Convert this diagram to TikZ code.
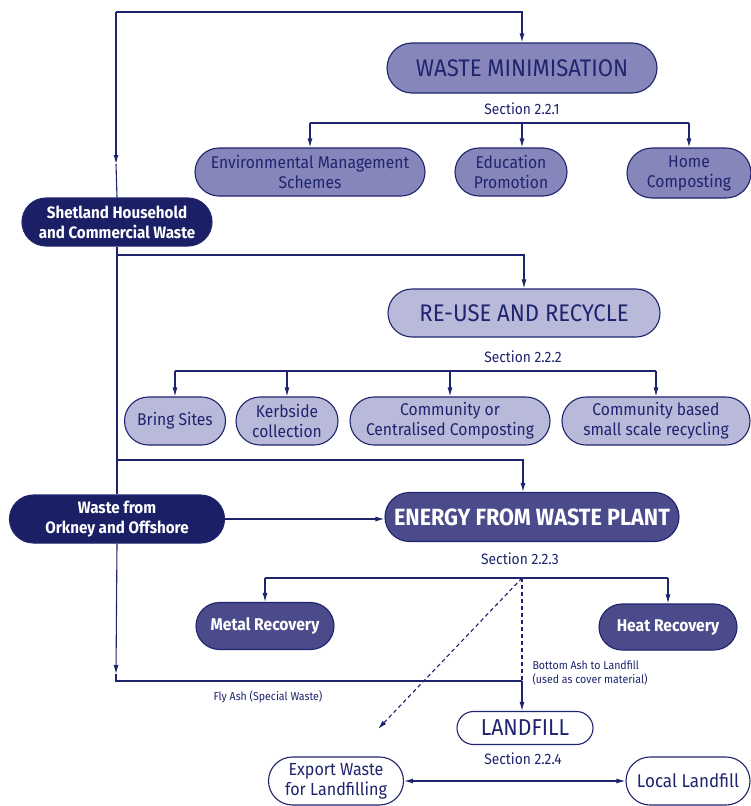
\documentclass[tikz,border=0pt]{standalone}
\usepackage{fontspec}
\setmainfont{Fira Sans}[FakeStretch=0.92]
\usetikzlibrary{shapes.misc,arrows.meta}
\definecolor{navy}{RGB}{30,36,110}
\definecolor{wmfill}{RGB}{134,134,186}
\definecolor{rrfill}{RGB}{185,185,218}
\definecolor{efwfill}{RGB}{75,75,140}
\definecolor{darkbox}{RGB}{27,31,102}
\begin{document}
\begin{tikzpicture}[x=1pt,y=-1pt,
  ln/.style={draw=navy,line width=1.1pt},
  arr/.style={ln,-{Latex[length=9pt,width=5pt]}},
  arrtwo/.style={ln,{Latex[length=9pt,width=5pt]}-{Latex[length=9pt,width=5pt]}},
  box/.style={rounded rectangle,draw=navy,line width=1.1pt,align=center,inner sep=0pt,font=\fontsize{17}{20}\selectfont},
  wmbox/.style={box,fill=wmfill,text=navy},
  rrbox/.style={box,fill=rrfill,text=navy},
  efbox/.style={box,fill=efwfill,text=white,font=\fontsize{17}{20}\selectfont\bfseries},
  srcbox/.style={box,fill=darkbox,text=white,font=\fontsize{16.5}{20}\selectfont\bfseries},
  wtbox/.style={box,fill=white,text=navy,font=\fontsize{17.5}{20}\selectfont},
  titlefont/.style={font=\fontsize{24}{26}\selectfont},
  seclbl/.style={text=navy,font=\fontsize{15}{17}\selectfont},
  small/.style={text=navy,font=\fontsize{11.5}{14}\selectfont}]
\useasboundingbox (0,0) rectangle (751,806);
\fill[white] (0,0) rectangle (751,806);

% main nodes
\node[wmbox,titlefont,minimum width=270pt,minimum height=50pt] (wm) at (522,68) {WASTE MINIMISATION};
\node[seclbl] (sec1) at (522,109) {Section 2.2.1};
\node[wmbox,minimum width=230pt,minimum height=48pt] (ems) at (310,172) {Environmental Management\\Schemes};
\node[wmbox,minimum width=112pt,minimum height=48pt] (edu) at (511,172) {Education\\Promotion};
\node[wmbox,minimum width=124pt,minimum height=50pt] (home) at (689,173) {Home\\Composting};

\node[srcbox,minimum width=190pt,minimum height=48pt] (shet) at (117,222) {Shetland Household\\and Commercial Waste};

\node[rrbox,titlefont,minimum width=272pt,minimum height=48pt] (rr) at (524,313) {RE-USE AND RECYCLE};
\node[seclbl] (sec2) at (523,357) {Section 2.2.2};
\node[rrbox,minimum width=101pt,minimum height=48pt] (bring) at (175,421) {Bring Sites};
\node[rrbox,minimum width=102pt,minimum height=48pt] (kerb) at (287,421) {Kerbside\\collection};
\node[rrbox,minimum width=200pt,minimum height=48pt] (comm) at (450,421) {Community or\\Centralised Composting};
\node[rrbox,minimum width=188pt,minimum height=48pt] (cbased) at (656,421) {Community based\\small scale recycling};

\node[srcbox,minimum width=215pt,minimum height=48pt] (ork) at (117,519) {Waste from\\Orkney and Offshore};
\node[efbox,minimum width=294pt,minimum height=49pt,font=\fontsize{23.5}{26}\selectfont\bfseries] (efw) at (532,517) {ENERGY FROM WASTE PLANT};
\node[seclbl] (sec3) at (520,559) {Section 2.2.3};
\node[efbox,minimum width=138pt,minimum height=47pt] (metal) at (265,626) {Metal Recovery};
\node[efbox,minimum width=138pt,minimum height=46pt] (heat) at (668,627) {Heat Recovery};

\node[wtbox,minimum width=136pt,minimum height=33pt,font=\fontsize{23}{25}\selectfont] (landfill) at (525,728) {LANDFILL};
\node[seclbl] (sec4) at (523,759) {Section 2.2.4};
\node[wtbox,minimum width=135pt,minimum height=48pt] (export) at (336,781) {Export Waste\\for Landfilling};
\node[wtbox,minimum width=124pt,minimum height=48pt,font=\fontsize{18.5}{20}\selectfont] (local) at (688,781) {Local Landfill};

\node[small,anchor=west,align=left] (bottomash) at (529,673) {Bottom Ash to Landfill\\(used as cover material)};
\node[small] (flyash) at (268,697) {Fly Ash (Special Waste)};

% coordinates
\coordinate (tl) at (116,12);
\coordinate (m1) at (116,164);
\coordinate (b1) at (522,123);
\coordinate (j2) at (116,255);
\coordinate (b2) at (450,371);
\coordinate (j3) at (116,460);
\coordinate (e3) at (523,460);
\coordinate (m2) at (116,674);
\coordinate (c4) at (116,681);
\coordinate (j4) at (522,681);
\coordinate (b3) at (522,578);
\coordinate (dtip) at (378,729);

% connectors
\draw[arr] (tl) -| (wm.north);
\draw[arr] (tl) -- (m1);
\draw[ln] (m1) -- (shet.north);

\draw[ln] (ems.north |- b1) -- (home.north |- b1);
\draw[arr] (ems.north |- b1) -- (ems.north);
\draw[arr] (b1) -- (b1 |- edu.north);
\draw[arr] (home.north |- b1) -- (home.north);

\draw[ln] (shet.south) -- (ork.north);
\draw[arr] (j2) -| (rr.north);

\draw[ln] (bring.north |- b2) -- (cbased.north |- b2);
\draw[arr] (bring.north |- b2) -- (bring.north);
\draw[arr] (kerb.north |- b2) -- (kerb.north);
\draw[arr] (comm.north |- b2) -- (comm.north);
\draw[arr] (cbased.north |- b2) -- (cbased.north);

\draw[arr] (j3) -- (e3) -- (e3 |- efw.north);
\draw[arr] (ork.east) -- (efw.west |- ork.east);

\draw[ln] (metal.north |- b3) -- (heat.north |- b3);
\draw[arr] (metal.north |- b3) -- (metal.north);
\draw[arr] (heat.north |- b3) -- (heat.north);
\draw[ln,dashed,dash pattern=on 4pt off 3pt] (b3) -- (j4);
\draw[arr,dashed,dash pattern=on 4pt off 3pt] (b3) -- (dtip);

\draw[arr] (ork.south) -- (m2);
\draw[ln] (m2) -- (c4) -- (j4);
\draw[arr] (j4) -- (landfill.north -| j4);

\draw[arrtwo] (export.east) -- (local.west);
\end{tikzpicture}
\end{document}
